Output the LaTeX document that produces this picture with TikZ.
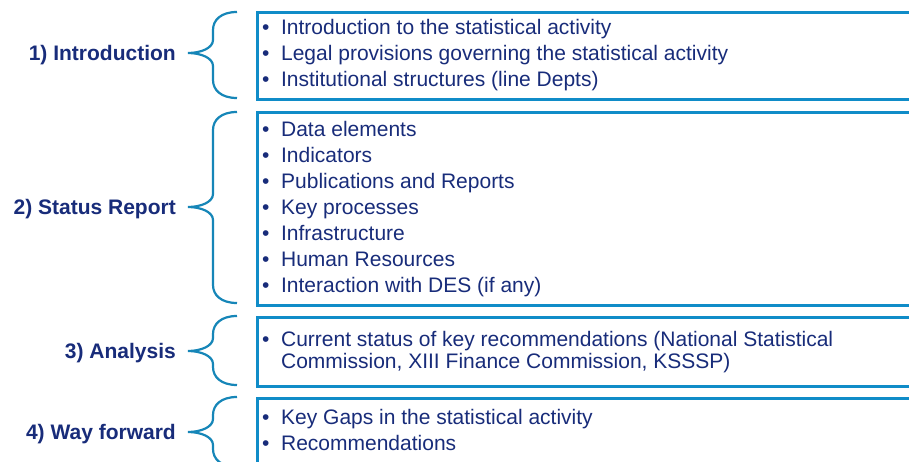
\documentclass[tikz,border=0pt]{standalone}
\usepackage{fontspec}
\setmainfont{Liberation Sans}
\definecolor{navy}{RGB}{24,44,122}
\definecolor{boxblue}{RGB}{16,140,200}
\definecolor{braceblue}{RGB}{22,134,184}
\newcommand\drawbrace[3]{%
  \draw[bracestyle] (237,#1) .. controls (221,#1) and (213,#1+8) .. (213,#1+18)
    -- (213,#2-13) .. controls (213,#2-5) and (201,#2) .. (188,#2)
    .. controls (201,#2) and (213,#2+5) .. (213,#2+13)
    -- (213,#3-18) .. controls (213,#3-8) and (221,#3) .. (237,#3);}
\begin{document}
\begin{tikzpicture}[x=1pt,y=-1pt,
  boxstyle/.style={draw=boxblue, line width=2.8pt, inner sep=0pt, minimum width=700pt, anchor=north west},
  bracestyle/.style={draw=braceblue, line width=2.2pt},
  labelstyle/.style={text=navy, font=\fontsize{21}{26}\selectfont\bfseries, inner sep=0pt, anchor=east},
  itemstyle/.style={text=navy, font=\fontsize{21}{26}\selectfont, inner sep=0pt, anchor=west}]
\clip (0,0) rectangle (909,462);
\fill[white] (0,0) rectangle (909,462);
% boxes
\node[boxstyle, minimum height=87pt] (b1) at (256,11) {};
\node[boxstyle, minimum height=193pt] (b2) at (256,111) {};
\node[boxstyle, minimum height=69pt] (b3) at (256,316) {};
\node[boxstyle, minimum height=100pt] (b4) at (256,397) {};
% braces
\drawbrace{12}{53}{98}
\drawbrace{112}{207}{303}
\drawbrace{316}{351}{385}
\drawbrace{397}{432}{467}
% labels
\node[labelstyle] (l1) at (176,55) {1) Introduction};
\node[labelstyle] (l2) at (176,209) {2) Status Report};
\node[labelstyle] (l3) at (176,353) {3) Analysis};
\node[labelstyle] (l4) at (176,434) {4) Way forward};
% bullet lists
\node[itemstyle] (t1) at (262,55) {\begin{tabular}{@{}l@{\hspace{11.6pt}}l@{}}
• & Introduction to the statistical activity\\
• & Legal provisions governing the statistical activity\\
• & Institutional structures (line Depts)
\end{tabular}};
\node[itemstyle] (t2) at (262,209) {\begin{tabular}{@{}l@{\hspace{11.6pt}}l@{}}
• & Data elements\\
• & Indicators\\
• & Publications and Reports\\
• & Key processes\\
• & Infrastructure\\
• & Human Resources\\
• & Interaction with DES (if any)
\end{tabular}};
\node[itemstyle] (t3) at (262,352) {\begin{tabular}{@{}l@{\hspace{11.6pt}}l@{}}
• & Current status of key recommendations (National Statistical\\[-4pt]
 & Commission, XIII Finance Commission, KSSSP)
\end{tabular}};
\node[itemstyle] (t4) at (262,432) {\begin{tabular}{@{}l@{\hspace{11.6pt}}l@{}}
• & Key Gaps in the statistical activity\\
• & Recommendations
\end{tabular}};
\end{tikzpicture}
\end{document}
